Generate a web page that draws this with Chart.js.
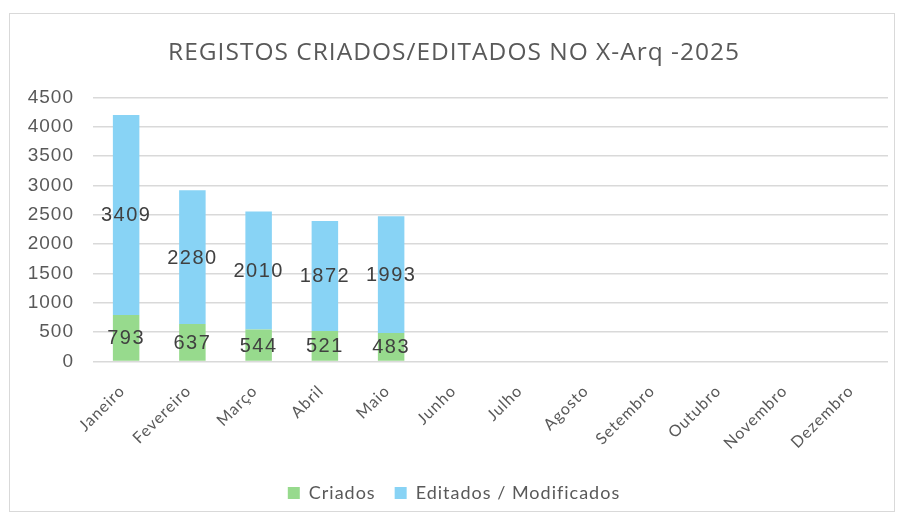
<!DOCTYPE html>
<html>
<head>
<meta charset="utf-8">
<script src="https://cdn.jsdelivr.net/npm/chart.js@4/dist/chart.umd.min.js"></script>
<style>
  html, body { margin: 0; padding: 0; background: #fff; }
  .frame {
    position: absolute; left: 9px; top: 13px; width: 884px; height: 497px;
    border: 1px solid #d9d9d9;
  }
  #chart { position: absolute; left: 0; top: 0; }
</style>
</head>
<body>
<div class="frame"></div>
<canvas id="chart" width="900" height="516"></canvas>
<script>
"use strict";

const months = [
  "Janeiro", "Fevereiro", "Março", "Abril", "Maio", "Junho",
  "Julho", "Agosto", "Setembro", "Outubro", "Novembro", "Dezembro",
];
const criados = [793, 637, 544, 521, 483, null, null, null, null, null, null, null];
const editados = [3409, 2280, 2010, 1872, 1993, null, null, null, null, null, null, null];

// o original tem letras largas, um pouco de espaçamento aproxima
const wideText = {
  id: "wideText",
  beforeUpdate(chart) {
    chart.ctx.letterSpacing = "1px";
  },
  beforeDraw(chart) {
    chart.ctx.letterSpacing = "1px";
  },
};

// rótulos no centro de cada segmento
const segmentLabels = {
  id: "segmentLabels",
  afterDatasetsDraw(chart) {
    const ctx = chart.ctx;
    ctx.save();
    ctx.font = "20px 'Liberation Sans', Arial, sans-serif";
    ctx.letterSpacing = "1.5px";
    ctx.fillStyle = "#404040";
    ctx.textAlign = "center";
    ctx.textBaseline = "middle";
    chart.data.datasets.forEach((ds, i) => {
      const meta = chart.getDatasetMeta(i);
      meta.data.forEach((bar, j) => {
        const v = ds.data[j];
        if (v == null) return;
        ctx.fillText(String(v), bar.x, (bar.y + bar.base) / 2 + 1);
      });
    });
    ctx.restore();
  },
};

(() => {
  const ctx = document.getElementById("chart").getContext("2d");

  new Chart(ctx, {
    type: "bar",
    data: {
      labels: months,
      datasets: [
        {
          label: "Criados",
          data: criados,
          backgroundColor: "#97da8d",
        },
        {
          label: "Editados / Modificados",
          data: editados,
          backgroundColor: "#88d3f5",
        },
      ],
    },
    options: {
      responsive: false,
      animation: false,
      layout: { padding: { left: 20, right: 12, top: 0, bottom: 4 } },
      datasets: { bar: { categoryPercentage: 1, barPercentage: 0.4 } },
      scales: {
        x: {
          stacked: true,
          grid: { display: false },
          border: { display: false },
          ticks: {
            minRotation: 45,
            maxRotation: 45,
            color: "#595959",
            font: { family: "Lato, sans-serif", size: 16 },
            padding: 12,
            labelOffset: -4,
          },
        },
        y: {
          stacked: true,
          min: 0,
          max: 4500,
          afterFit: (scale) => {
            scale.width = 73;
          },
          ticks: {
            stepSize: 500,
            color: "#595959",
            padding: 19,
            callback: (v) => String(v),
            font: { family: "'Liberation Sans', Arial, sans-serif", size: 19 },
          },
          grid: { color: "#d9d9d9", lineWidth: 1.5, drawTicks: false },
          border: { display: false },
        },
      },
      plugins: {
        title: {
          display: true,
          text: "REGISTOS CRIADOS/EDITADOS NO X-Arq -2025",
          color: "#595959",
          font: { family: "'Open Sans', sans-serif", size: 24.5, weight: "normal" },
          padding: { top: 38, bottom: 30 },
        },
        legend: {
          position: "bottom",
          labels: {
            boxWidth: 12,
            boxHeight: 12,
            padding: 19,
            color: "#595959",
            font: { family: "Lato, sans-serif", size: 18 },
          },
        },
        tooltip: { enabled: false },
      },
    },
    plugins: [wideText, segmentLabels],
  });
})();
</script>
</body>
</html>
